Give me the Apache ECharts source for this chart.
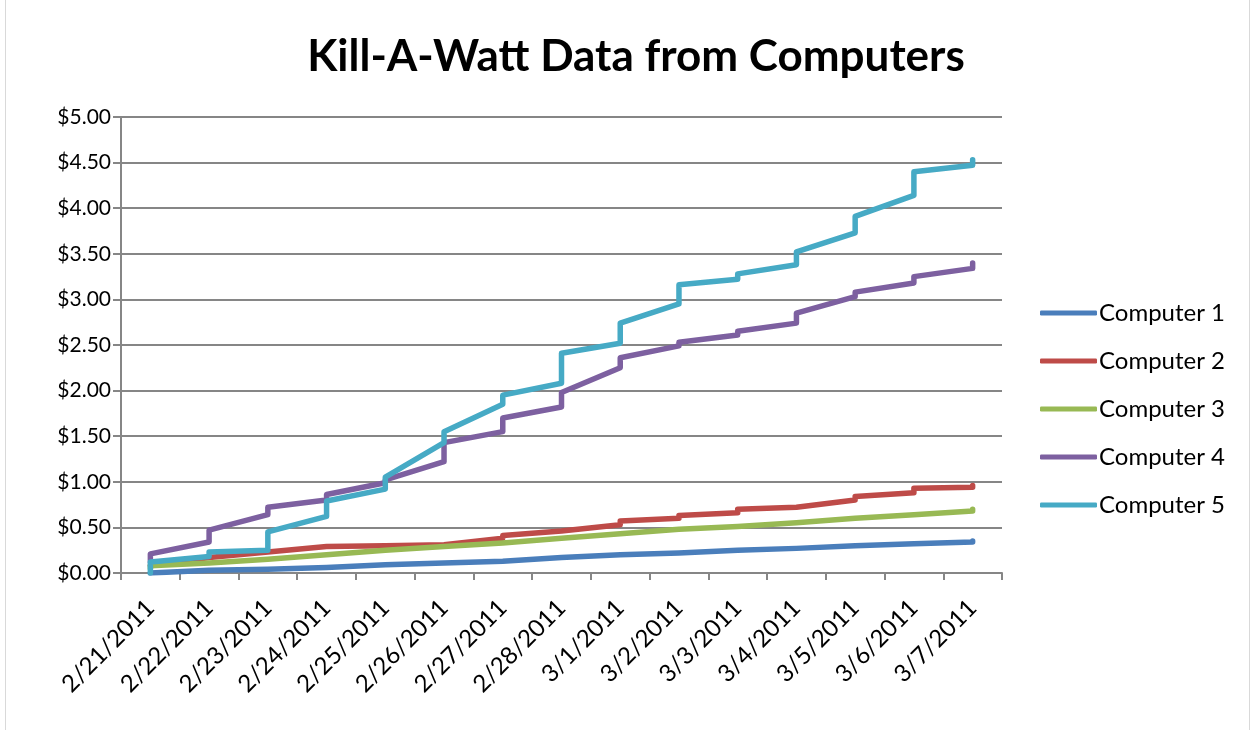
<!DOCTYPE html>
<html>
<head>
<meta charset="utf-8">
<title>Kill-A-Watt Data from Computers</title>
<script src="https://cdn.jsdelivr.net/npm/echarts@6/dist/echarts.min.js"></script>
<style>
  html, body { margin: 0; padding: 0; background: #fff; }
  #main { width: 1255px; height: 730px; }
</style>
</head>
<body>
<div id="main"></div>
<script>
// dates on the x axis
var days = ["2/21/2011", "2/22/2011", "2/23/2011", "2/24/2011", "2/25/2011",
  "2/26/2011", "2/27/2011", "2/28/2011", "3/1/2011", "3/2/2011",
  "3/3/2011", "3/4/2011", "3/5/2011", "3/6/2011", "3/7/2011"];

// two readings per day: first reading, last reading (cumulative $)
var computer1 = [0.00, 0.01, 0.03, 0.03, 0.04, 0.05, 0.06, 0.07, 0.09, 0.10,
  0.11, 0.12, 0.13, 0.14, 0.17, 0.18, 0.20, 0.21, 0.22, 0.23,
  0.25, 0.26, 0.27, 0.28, 0.30, 0.31, 0.32, 0.33, 0.34, 0.35];
var computer2 = [0.08, 0.10, 0.17, 0.19, 0.23, 0.25, 0.29, 0.30, 0.30, 0.31,
  0.31, 0.33, 0.38, 0.41, 0.46, 0.48, 0.53, 0.57, 0.60, 0.63,
  0.66, 0.70, 0.72, 0.74, 0.80, 0.84, 0.88, 0.93, 0.94, 0.96];
var computer3 = [0.05, 0.08, 0.11, 0.13, 0.15, 0.17, 0.20, 0.22, 0.25, 0.27,
  0.29, 0.31, 0.33, 0.35, 0.38, 0.40, 0.43, 0.45, 0.48, 0.50,
  0.51, 0.53, 0.55, 0.57, 0.60, 0.62, 0.64, 0.66, 0.68, 0.70];
var computer4 = [0.12, 0.21, 0.34, 0.47, 0.64, 0.72, 0.80, 0.86, 0.99, 1.02,
  1.22, 1.43, 1.55, 1.70, 1.82, 1.98, 2.25, 2.36, 2.49, 2.53,
  2.61, 2.65, 2.74, 2.85, 3.03, 3.08, 3.18, 3.25, 3.34, 3.40];
var computer5 = [0.00, 0.12, 0.18, 0.23, 0.25, 0.45, 0.62, 0.79, 0.92, 1.05,
  1.43, 1.55, 1.85, 1.95, 2.08, 2.41, 2.52, 2.74, 2.95, 3.16,
  3.22, 3.28, 3.38, 3.52, 3.73, 3.91, 4.14, 4.40, 4.47, 4.53];

var names = ["Computer 1", "Computer 2", "Computer 3", "Computer 4", "Computer 5"];
var colors = ["#4A7EBB", "#BE4B48", "#98B954", "#7D60A0", "#46AAC5"];

// pair each reading with its day index so both readings sit on the same date
function toPoints(values) {
  return values.map(function (v, i) {
    return [Math.floor(i / 2), v];
  });
}

var chartDom = document.getElementById("main");
var myChart = echarts.init(chartDom, null, { renderer: "canvas" });
var option;

var allSeries = [computer1, computer2, computer3, computer4, computer5].map(function (vals, i) {
  return {
    name: names[i],
    type: "line",
    data: toPoints(vals),
    showSymbol: false,
    lineStyle: { width: 5.5, color: colors[i], cap: "round", join: "round" },
    itemStyle: { color: colors[i] },
    animation: false,
  };
});

option = {
  animation: false,
  backgroundColor: "#ffffff",
  textStyle: { fontFamily: "Lato, 'Open Sans', sans-serif" },
  title: {
    text: "Kill-A-Watt Data from Computers",
    left: 631,
    textAlign: "center",
    top: 30,
    textStyle: {
      fontFamily: "Lato, 'Open Sans', sans-serif",
      fontSize: 44,
      fontWeight: "bold",
      color: "#000",
    },
  },
  legend: {
    orient: "vertical",
    left: 1035,
    top: 296,
    itemWidth: 57,
    itemHeight: 5,
    itemGap: 24,
    icon: "roundRect",
    data: names,
    textStyle: { fontSize: 24, color: "#000", padding: [0, 0, 0, -3] },
  },
  grid: {
    left: 121,
    right: 253,
    top: 117,
    bottom: 157,
  },
  xAxis: {
    type: "category",
    data: days,
    boundaryGap: true,
    axisLine: { lineStyle: { color: "#868686", width: 2 } },
    axisTick: { show: true, length: 7, lineStyle: { color: "#868686", width: 2 } },
    axisLabel: {
      rotate: 45,
      interval: 0,
      margin: 31,
      fontSize: 24,
      color: "#000",
    },
    splitLine: { show: false },
  },
  yAxis: {
    type: "value",
    min: 0,
    max: 5,
    interval: 0.5,
    axisLine: { show: true, lineStyle: { color: "#868686", width: 2 } },
    axisTick: { show: true, length: 8, lineStyle: { color: "#868686", width: 2 } },
    axisLabel: {
      margin: 10,
      fontSize: 21,
      color: "#000",
      formatter: function (v) {
        return "$" + v.toFixed(2);
      },
    },
    splitLine: { show: true, lineStyle: { color: "#868686", width: 2 } },
  },
  graphic: [
    {
      type: "rect",
      shape: { x: 5.5, y: -2, width: 1244, height: 740 },
      style: { fill: "none", stroke: "#d9d9d9", lineWidth: 1 },
      silent: true,
    },
  ],
  series: allSeries,
};

option && myChart.setOption(option);
</script>
</body>
</html>
